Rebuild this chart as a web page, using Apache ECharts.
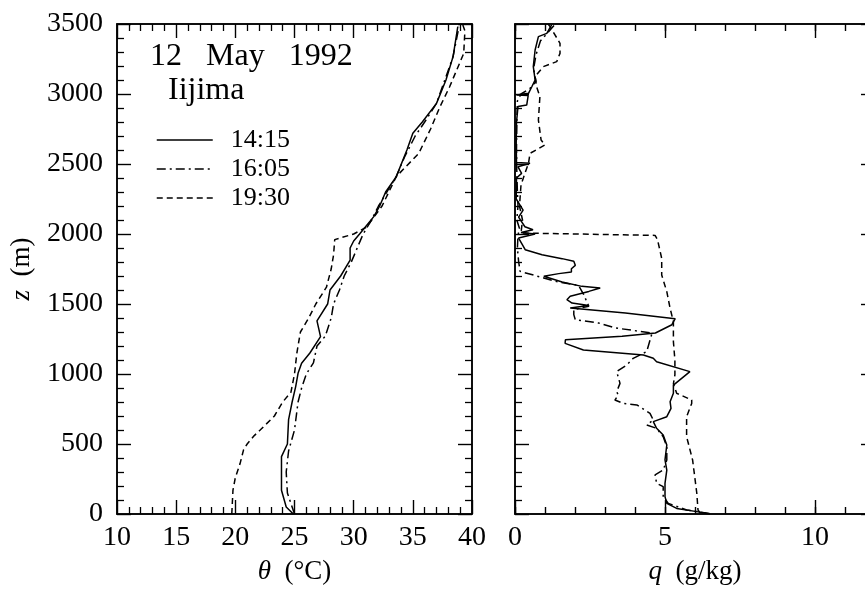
<!DOCTYPE html>
<html>
<head>
<meta charset="utf-8">
<script src="https://cdn.jsdelivr.net/npm/echarts@6/dist/echarts.min.js"></script>
<style>
  html, body { margin: 0; padding: 0; background: #fff; }
  #chart { width: 865px; height: 589px; }
</style>
</head>
<body>
<div id="chart"></div>
<script>
// series names (launch times)
var runNames = ['14:15', '16:05', '19:30'];

// potential temperature profiles: height (m) and theta (degC)
var zTheta1415 = [0, 50, 170, 300, 410, 500, 674, 800, 910, 1005, 1077, 1150, 1267, 1380, 1500, 1600, 1700, 1814, 1900, 1950, 2000, 2124, 2200, 2300, 2410, 2600, 2719, 2800, 2933, 3100, 3267, 3481];
var theta1415  = [24.9, 24.3, 23.9, 23.9, 23.9, 24.4, 24.5, 24.8, 25.1, 25.3, 25.6, 26.3, 27.2, 26.9, 27.8, 28.0, 28.9, 29.7, 29.7, 30.0, 30.5, 31.7, 32.2, 32.7, 33.6, 34.5, 35.0, 35.8, 37.0, 37.8, 38.4, 38.8];

var zTheta1605 = [0, 50, 150, 300, 450, 600, 800, 900, 1000, 1080, 1200, 1270, 1400, 1500, 1600, 1700, 1800, 1900, 2000, 2100, 2200, 2300, 2410, 2550, 2700, 2800, 2933, 3100, 3267, 3480];
var theta1605  = [25.0, 24.8, 24.4, 24.3, 24.5, 25.0, 25.3, 25.6, 26.0, 26.6, 26.9, 27.6, 28.1, 28.3, 28.8, 29.2, 29.8, 30.3, 30.8, 31.5, 32.1, 32.8, 33.6, 34.3, 35.2, 36.0, 37.0, 37.7, 38.4, 38.9];

var zTheta1930 = [0, 170, 260, 360, 460, 500, 560, 600, 700, 800, 870, 1000, 1150, 1300, 1400, 1500, 1620, 1750, 1850, 1960, 2000, 2050, 2200, 2410, 2576, 2750, 2910, 3050, 3290, 3450, 3500];
var theta1930  = [19.7, 19.8, 20.0, 20.4, 20.7, 21.0, 21.6, 22.1, 23.3, 24.0, 24.7, 25.0, 25.2, 25.5, 26.2, 26.8, 27.7, 28.1, 28.3, 28.4, 30.0, 31.1, 32.4, 33.6, 35.5, 36.5, 37.3, 38.1, 39.3, 39.4, 39.2];

// specific humidity profiles, in path order from top to bottom: height (m) and q (g/kg)
var zQ1415 = [3493, 3433, 3410, 3314, 3195, 3100, 3052, 3005, 2993, 2990, 2921, 2910, 2800, 2650, 2510, 2505, 2480, 2433, 2400, 2250, 2171, 2120, 2052, 2030, 2010, 2000, 1971, 1888, 1852, 1824, 1805, 1776, 1752, 1729, 1717, 1698, 1657, 1626, 1614, 1590, 1555, 1531, 1507, 1490, 1471, 1436, 1395, 1352, 1293, 1269, 1245, 1219, 1171, 1136, 1112, 1088, 1017, 1005, 921, 862, 802, 755, 695, 660, 612, 564, 493, 386, 314, 219, 124, 76, 40, 17, 0];
var q1415  = [1.22, 1.06, 0.78, 0.67, 0.61, 0.67, 0.56, 0.45, 0.05, 0.44, 0.39, 0.1, 0.05, 0.04, 0.05, 0.5, 0.1, 0.22, 0.05, 0.04, 0.27, 0.12, 0.33, 0.6, 0.2, 0.67, 0.12, 0.34, 0.9, 1.57, 1.96, 2.01, 1.88, 1.88, 1.46, 0.96, 1.57, 2.23, 2.84, 2.46, 1.84, 1.73, 1.9, 2.46, 1.84, 3.68, 5.34, 5.23, 4.68, 3.57, 1.68, 1.67, 2.28, 4.28, 4.61, 4.72, 5.83, 5.83, 5.28, 5.28, 5.17, 5.2, 5.06, 4.61, 4.72, 4.94, 5.06, 5.0, 5.06, 5.0, 5.0, 5.06, 5.39, 6.06, 6.5];

var zQ1605 = [3490, 3440, 3380, 3280, 3180, 3090, 3040, 3000, 2950, 2800, 2600, 2450, 2300, 2200, 2100, 2040, 1990, 1900, 1805, 1733, 1686, 1662, 1633, 1567, 1484, 1460, 1424, 1388, 1364, 1329, 1293, 1279, 1160, 1112, 1064, 1017, 1005, 933, 874, 850, 814, 790, 779, 719, 671, 636, 612, 552, 481, 386, 314, 279, 219, 195, 124, 76, 29, 10, 0];
var q1605  = [1.3, 1.1, 0.85, 0.7, 0.62, 0.7, 0.5, 0.2, 0.08, 0.06, 0.05, 0.06, 0.08, 0.1, 0.06, 0.15, 0.1, 0.08, 0.12, 0.17, 0.96, 1.34, 2.12, 2.29, 2.46, 1.96, 1.96, 2.01, 2.79, 3.34, 4.57, 4.61, 4.39, 3.94, 3.72, 3.39, 3.39, 3.5, 3.39, 3.44, 3.33, 3.61, 4.06, 4.5, 4.61, 4.39, 4.72, 4.94, 5.06, 5.06, 4.94, 4.67, 4.72, 4.94, 4.94, 5.11, 5.72, 6.28, 6.6];

var zQ1930 = [3500, 3481, 3362, 3290, 3231, 3195, 3124, 3052, 2981, 2814, 2671, 2636, 2576, 2505, 2433, 2350, 2200, 2100, 2007, 1993, 1990, 1960, 1826, 1707, 1588, 1469, 1374, 1231, 1100, 993, 930, 862, 814, 790, 695, 552, 386, 148, 29, 0];
var q1930  = [1.1, 1.17, 1.5, 1.5, 1.39, 0.94, 0.67, 0.72, 0.83, 0.78, 0.87, 1.0, 0.5, 0.45, 0.33, 0.2, 0.15, 0.25, 0.2, 0.17, 4.67, 4.75, 4.89, 4.89, 5.06, 5.17, 5.28, 5.28, 5.33, 5.33, 5.28, 5.39, 5.89, 5.89, 5.72, 5.72, 5.92, 6.06, 6.1, 6.2];

var FONT = 'Liberation Serif';

// [x, z] pairs for a line series
function pairs(xs, zs) {
    var out = [];
    for (var i = 0; i < Math.min(xs.length, zs.length); i++) {
        out.push([xs[i], zs[i]]);
    }
    return out;
}

function plain(v) { return String(v); }

// common axis look: black frame, inward ticks
function axis(gridIndex, position, min, max, interval, opts) {
    opts = opts || {};
    return {
        type: 'value',
        gridIndex: gridIndex,
        position: position,
        min: min,
        max: max,
        interval: interval,
        axisLine: { show: opts.noLine ? false : true, onZero: false, lineStyle: { color: '#000', width: 1.5 } },
        axisTick: { show: true, inside: true, length: opts.tickLen || 14, lineStyle: { color: '#000', width: 1.4 } },
        minorTick: { show: !!opts.minor, splitNumber: 5, length: 7, lineStyle: { color: '#000', width: 1.3 } },
        splitLine: { show: false },
        axisLabel: {
            show: !!opts.labels,
            formatter: plain,
            fontFamily: FONT,
            fontSize: 28,
            color: '#000',
            margin: opts.margin || 10,
            showMaxLabel: opts.hideMax ? false : null
        },
        name: opts.name || '',
        nameLocation: 'middle',
        nameGap: opts.nameGap || 40,
        nameRotate: opts.nameRotate,
        nameTextStyle: {
            fontFamily: FONT,
            fontSize: 27,
            color: '#000',
            rich: { i: { fontFamily: FONT, fontSize: 27, fontStyle: 'italic', color: '#000' } }
        }
    };
}

var dashes = {
    '14:15': 'solid',
    '16:05': [9, 4, 2, 4],
    '19:30': [6, 4]
};

function line(name, xIdx, yIdx, data) {
    return {
        name: name,
        type: 'line',
        xAxisIndex: xIdx,
        yAxisIndex: yIdx,
        data: data,
        symbol: 'none',
        silent: true,
        clip: true,
        color: '#000',
        itemStyle: { color: '#000' },
        lineStyle: { color: '#000', width: 1.5, type: dashes[name] }
    };
}

var myChart = echarts.init(document.getElementById('chart'));

var option = {
    animation: false,
    backgroundColor: '#fff',
    textStyle: { fontFamily: FONT, color: '#000' },
    grid: [
        { left: 117, top: 24, width: 355, height: 490, show: true, borderColor: '#000', borderWidth: 1.5, backgroundColor: 'transparent', outerBoundsMode: 'none' },
        { left: 515, top: 24, width: 360, height: 490, show: true, borderColor: '#000', borderWidth: 1.5, backgroundColor: 'transparent', outerBoundsMode: 'none' }
    ],
    xAxis: [
        axis(0, 'bottom', 10, 40, 5, { minor: true, labels: true, margin: 10, name: '{i|θ}  (°C)', nameGap: 44 }),
        axis(0, 'top', 10, 40, 5, { minor: true }),
        axis(1, 'bottom', 0, 12, 5, { labels: true, margin: 10, hideMax: true, name: '{i|q}  (g/kg)', nameGap: 44 }),
        axis(1, 'top', 0, 12, 5, {}),
        axis(1, 'bottom', 0, 12, 1, { noLine: true, tickLen: 7 }),
        axis(1, 'top', 0, 12, 1, { noLine: true, tickLen: 7 })
    ],
    yAxis: [
        axis(0, 'left', 0, 3500, 500, { minor: true, labels: true, margin: 14, name: '{i|z}  (m)', nameGap: 82, nameRotate: 90 }),
        axis(0, 'right', 0, 3500, 500, { minor: true }),
        axis(1, 'left', 0, 3500, 500, { minor: true }),
        axis(1, 'right', 0, 3500, 500, { minor: true })
    ],
    legend: {
        data: runNames,
        orient: 'vertical',
        left: 151,
        top: 122,
        itemWidth: 56,
        itemHeight: 14,
        itemGap: 3,
        selectedMode: false,
        itemStyle: { opacity: 0 },
        lineStyle: { color: '#000', width: 1.5 },
        textStyle: { fontFamily: FONT, fontSize: 26, color: '#000', padding: [0, 0, 0, 13] }
    },
    graphic: [
        { type: 'text', left: 150, top: 41, style: { text: '12   May   1992', font: '32px "Liberation Serif"', fill: '#000' } },
        { type: 'text', left: 168, top: 75, style: { text: 'Iijima', font: '32px "Liberation Serif"', fill: '#000' } }
    ],
    series: [
        line('14:15', 0, 0, pairs(theta1415, zTheta1415)),
        line('16:05', 0, 0, pairs(theta1605, zTheta1605)),
        line('19:30', 0, 0, pairs(theta1930, zTheta1930)),
        line('14:15', 2, 2, pairs(q1415, zQ1415)),
        line('16:05', 2, 2, pairs(q1605, zQ1605)),
        line('19:30', 2, 2, pairs(q1930, zQ1930))
    ]
};

myChart.setOption(option);
</script>
</body>
</html>
